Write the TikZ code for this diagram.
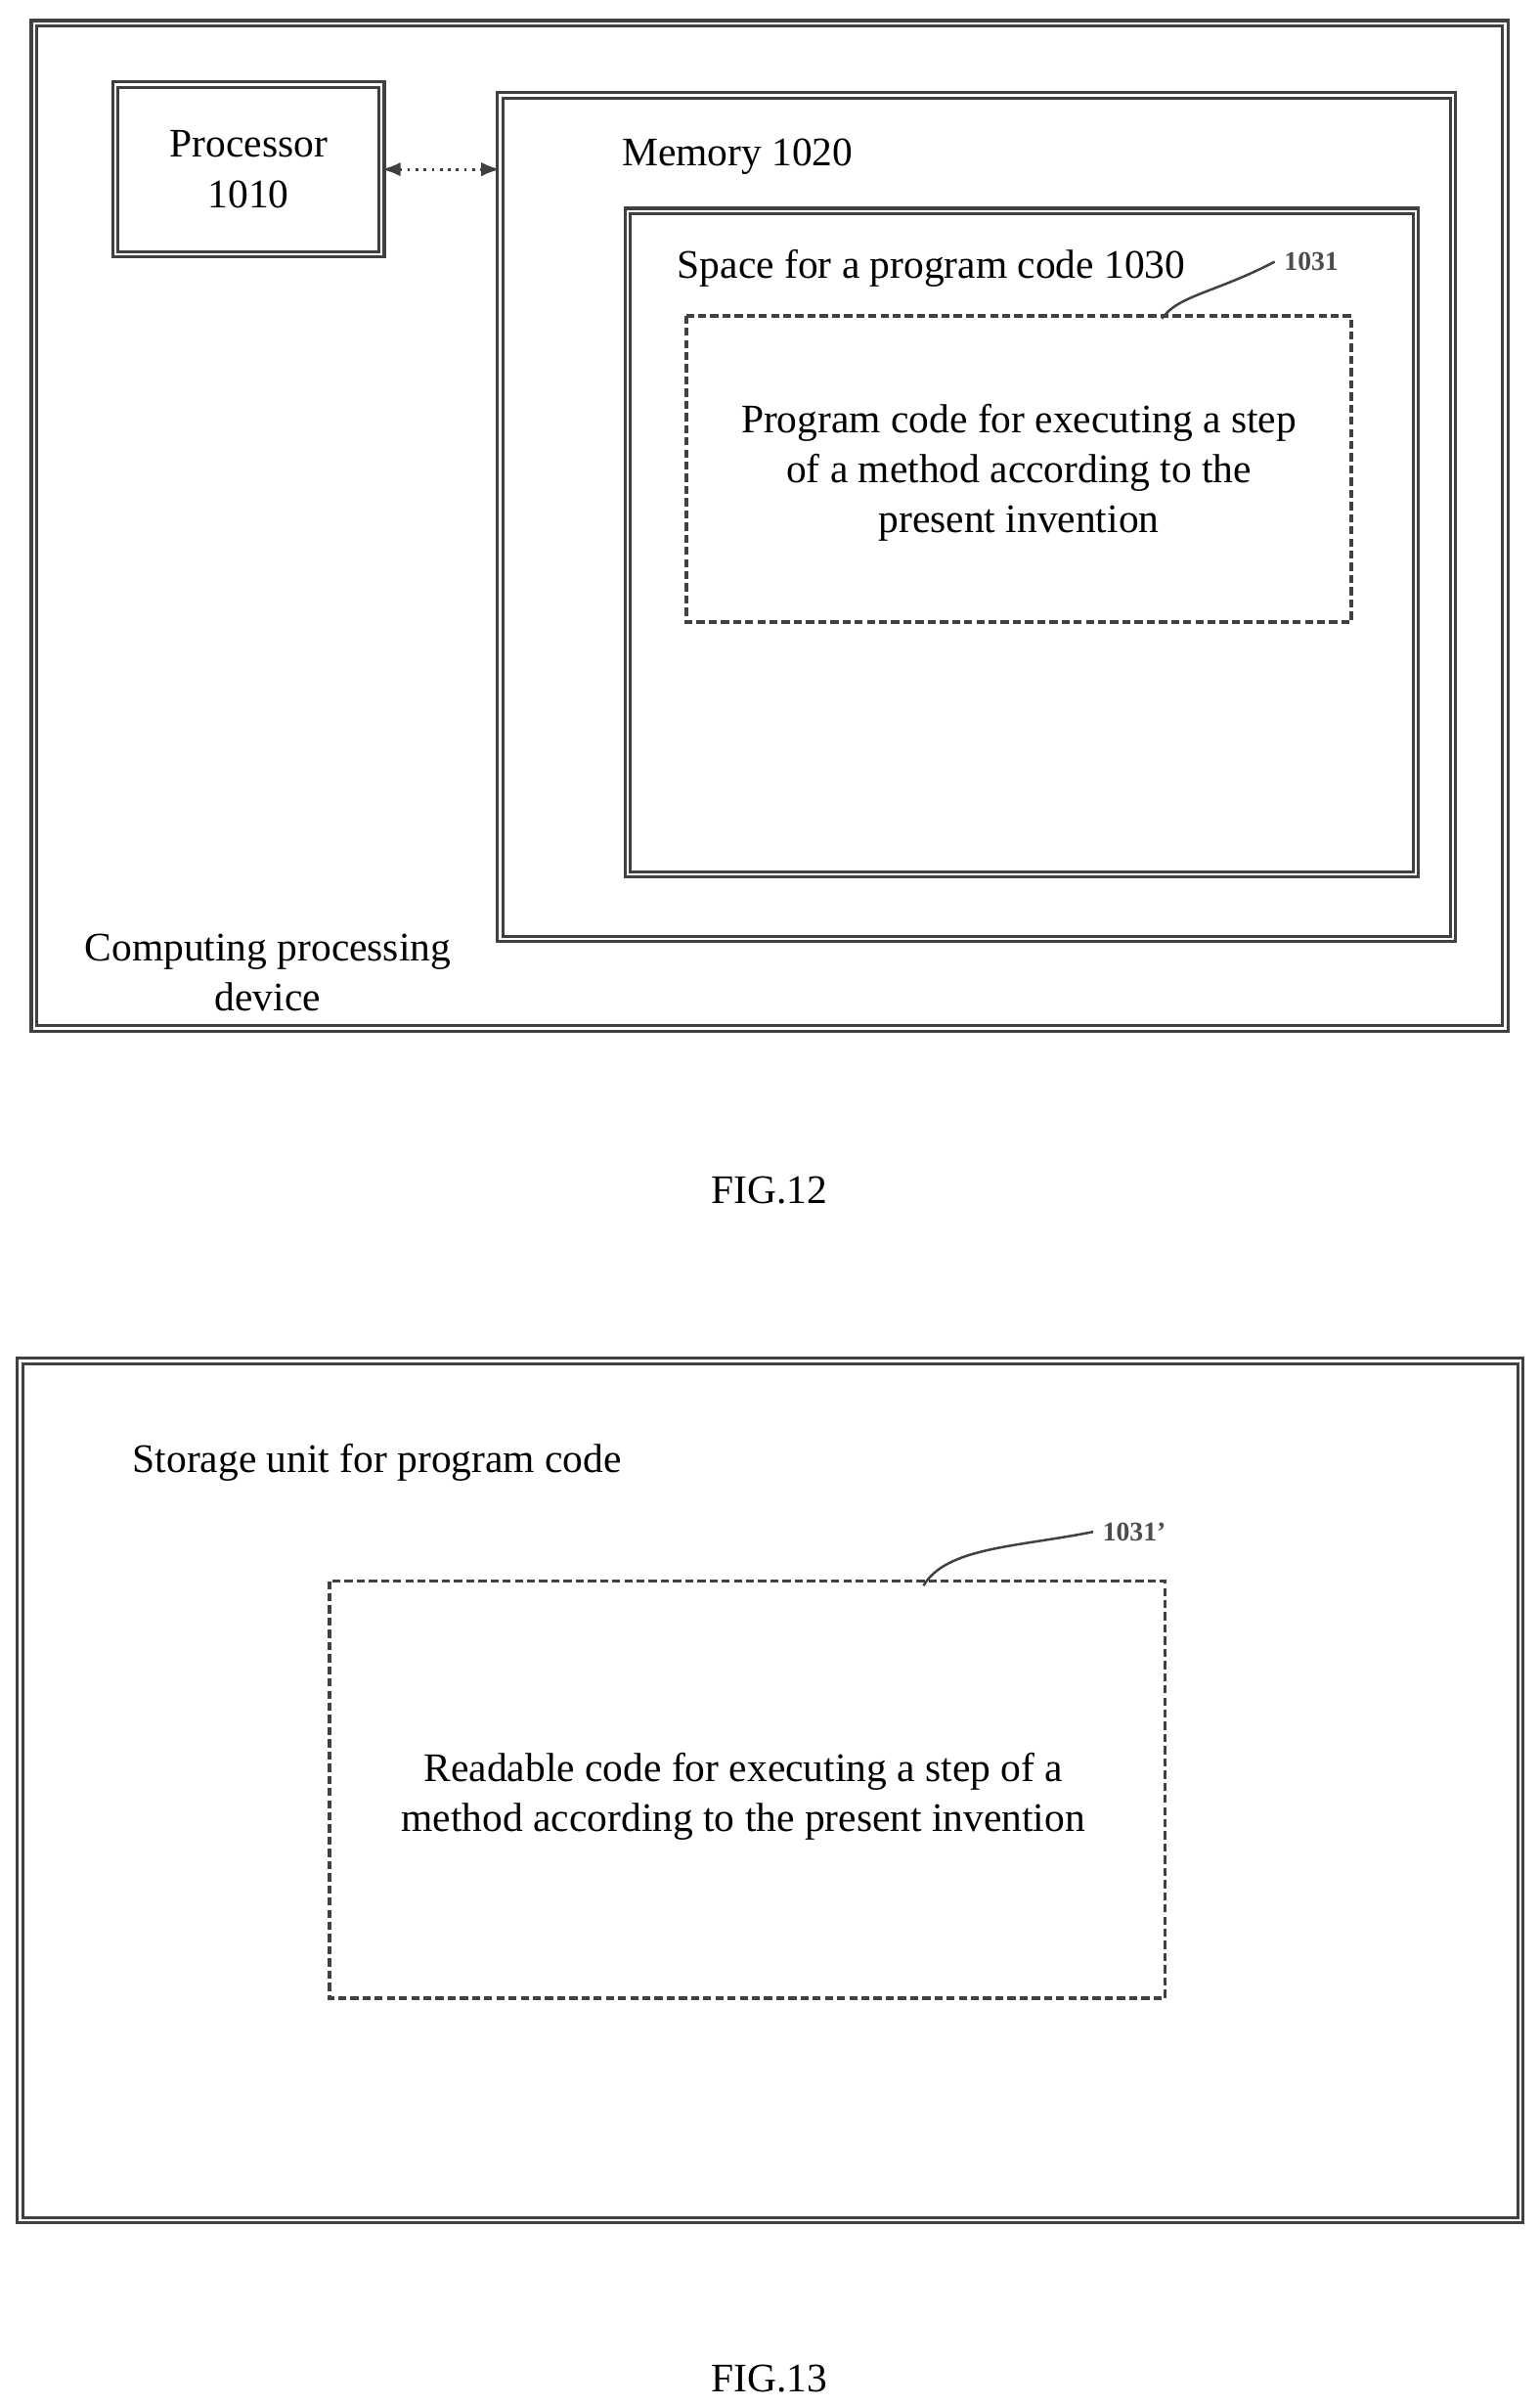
\documentclass[tikz,border=0pt]{standalone}
\usepackage{fontspec}
\setmainfont{Liberation Serif}
\usetikzlibrary{arrows.meta,positioning}
\begin{document}
\begin{tikzpicture}[x=0.02cm, y=-0.02cm,
	box/.style={draw=black!75, line width=1.1pt, double=white, double distance=0.8pt},
	dbox/.style={draw=black!75, line width=1.4pt, dash pattern=on 3pt off 1.5pt},
	lbl/.style={font=\fontsize{15}{18.5}\selectfont, align=center},
	num/.style={font=\fontsize{10}{12}\selectfont\bfseries, text=black!70}]
	\useasboundingbox (0,0) rectangle (1000,1563.5);
	% FIG. 12
	\draw[box] (22,15) rectangle (978,668);
	\draw[box] (75,55) rectangle (248,165);
	\node[lbl] (proc) at (161.5,110) {Processor\\1010};
	\coordinate (procE) at (248,110);
	\draw[box] (325,62) rectangle (944,610);
	\coordinate (memW) at (325,110);
	\node[lbl, anchor=west] (mem) at (398,102) {Memory 1020};
	\draw[box] (408,137) rectangle (920,568);
	\node[lbl, anchor=west] (space) at (434,174) {Space for a program code 1030};
	\draw[dbox] (446,205) rectangle (878,404);
	\node[lbl] (code) at (662,307) {Program code for executing a step\\of a method according to the\\present invention};
	\node[num] (n1031) at (852,170) {1031};
	\coordinate (c1031) at (755,207);
	\draw[black!75, line width=0.9pt] (c1031) .. controls (765,192) and (790,190) .. (n1031.west);
	\draw[{Latex[length=7pt]}-{Latex[length=7pt]}, black!75, line width=1pt, dotted] (procE) -- (memW);
	\node[lbl] (dev) at (174,632) {Computing processing\\device};
	\node[lbl] (fig12) at (500,773) {FIG.12};
	% FIG. 13
	\draw[box] (13,884) rectangle (988,1442);
	\node[lbl, anchor=west] (store) at (80,950) {Storage unit for program code};
	\draw[dbox] (214,1027) rectangle (757,1298);
	\node[lbl] (read) at (483,1167) {Readable code for executing a step of a\\method according to the present invention};
	\node[num] (n1031b) at (737,995) {1031'};
	\coordinate (c1031b) at (600,1030);
	\draw[black!75, line width=0.9pt] (c1031b) .. controls (615,1005) and (660,1005) .. (n1031b.west);
	\node[lbl] (fig13) at (500,1545) {FIG.13};
\end{tikzpicture}
\end{document}
